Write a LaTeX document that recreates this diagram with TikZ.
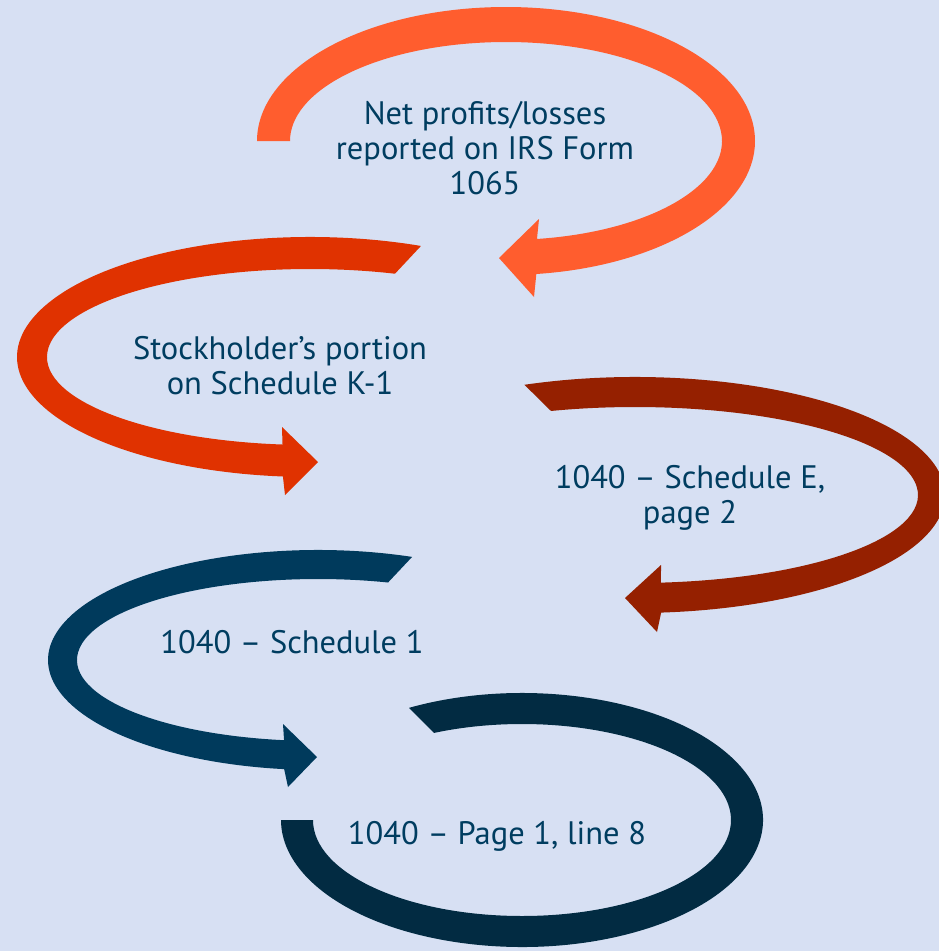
\documentclass[tikz,border=0pt]{standalone}
\usepackage{fontspec}
\setmainfont{PT Sans}
\usepackage{tikz}

\definecolor{bgblue}{RGB}{215,224,243}
\definecolor{loopA}{RGB}{255,93,46}
\definecolor{loopB}{RGB}{224,50,0}
\definecolor{loopC}{RGB}{149,32,0}
\definecolor{loopD}{RGB}{0,58,92}
\definecolor{loopE}{RGB}{2,43,66}
\definecolor{txtblue}{RGB}{0,61,96}

\begin{document}
\begin{tikzpicture}[x=0.02cm,y=-0.02cm,
  lbl/.style={text=txtblue, align=center, inner sep=0pt, font=\fontsize{18.5}{20}\selectfont}]
\fill[bgblue] (0,0) rectangle (939,951);
\useasboundingbox (0,0) rectangle (939,951);
\clip (0,0) rectangle (939,951);

% centres of the loops
\coordinate (c1) at (506,141);
\coordinate (c2) at (310,357);
\coordinate (c3) at (635,495);
\coordinate (c4) at (318,660);
\coordinate (c5) at (522,820);

% Form 1065
\fill[loopA] ([shift={(c1)}]180:249 and 134) arc[start angle=180, end angle=443, x radius=249, y radius=134]
  -- (534,297) -- (499,258) -- (539,219)
  -- ([shift={(c1)}]441.75:216 and 99) arc[start angle=441.75, end angle=180, x radius=216, y radius=99] -- cycle;

% K-1
\fill[loopB] ([shift={(c2)}]-67.74:293 and 120) arc[start angle=-67.74, end angle=-264.7, x radius=293, y radius=120]
  -- (285,495) -- (318,462) -- (282,427)
  -- ([shift={(c2)}]-264:263 and 88) arc[start angle=-264, end angle=-71.15, x radius=263, y radius=88] -- cycle;

% Schedule E
\fill[loopC] ([shift={(c3)}]249.1:310 and 118) arc[start angle=249.1, end angle=445.16, x radius=310, y radius=118]
  -- (657,632) -- (625,598) -- (661,565)
  -- ([shift={(c3)}]444.73:283 and 88) arc[start angle=444.73, end angle=252.73, x radius=283, y radius=88] -- cycle;

% Schedule 1
\fill[loopD] ([shift={(c4)}]-69.6:270 and 110) arc[start angle=-69.6, end angle=-262.8, x radius=270, y radius=110]
  -- (288,787) -- (317,757) -- (283,724)
  -- ([shift={(c4)}]-261.9:241 and 81) arc[start angle=-261.9, end angle=-73.1, x radius=241, y radius=81] -- cycle;

% Page 1
\fill[loopE] ([shift={(c5)}]242.04:241 and 127) arc[start angle=242.04, end angle=540, x radius=241, y radius=127]
  -- ([shift={(c5)}]540:209 and 96) arc[start angle=540, end angle=245.1, x radius=209, y radius=96] -- cycle;

\node[lbl] (form) at (485,148) {Net profits/losses\\reported on IRS Form\\1065};
\node[lbl] (kone) at (280,366) {Stockholder’s portion\\on Schedule K-1};
\node[lbl] (schede) at (690,498) {1040 – Schedule E,\\page 2};
\node[lbl] (schedone) at (292,642) {1040 – Schedule 1};
\node[lbl] (pageone) at (497,836) {1040 – Page 1, line 8};

\end{tikzpicture}
\end{document}
